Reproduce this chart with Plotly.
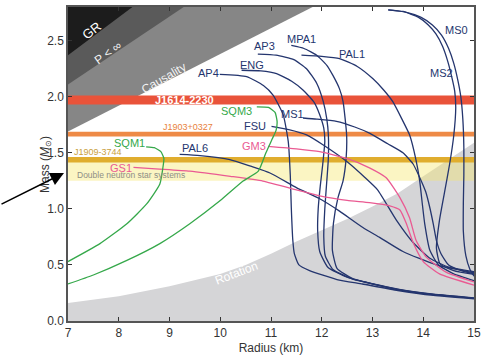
import plotly.graph_objects as go

# ---------------- data ----------------
x_range = [7, 15]
y_range = [0, 2.8]

# excluded regions: boundary lines (R km, M Msun)
gr_R, gr_M = [7.0, 8.27], [2.37, 2.80]
pinf_R, pinf_M = [7.0, 9.28], [2.11, 2.80]
caus_R, caus_M = [7.0, 11.82], [1.69, 2.80]
rot_R = [7.0, 8.0, 9.0, 10.0, 10.5, 11.0, 11.5, 12.0, 12.5, 13.0, 13.5, 14.0, 14.5, 15.0]
rot_M = [0.16, 0.22, 0.31, 0.42, 0.50, 0.60, 0.71, 0.81, 0.91, 1.02, 1.14, 1.29, 1.44, 1.59]

# pulsar mass bands (lo, hi)
band_names = ["Double neutron star systems", "J1909-3744", "J1903+0327", "J1614-2230"]
band_lo = [1.25, 1.414, 1.646, 1.93]
band_hi = [1.42, 1.462, 1.688, 2.01]

# mass-radius curves
AP4_R = [9.99, 10.52, 10.85, 11.04, 11.24, 11.34, 11.38, 11.40, 11.43, 11.46, 11.55, 11.76, 12.3, 12.8, 13.5, 14.2, 15.0]
AP4_M = [2.20, 2.18, 2.10, 2.015, 1.84, 1.60, 1.30, 1.01, 0.72, 0.60, 0.50, 0.45, 0.37, 0.33, 0.272, 0.228, 0.197]
ENG_R = [10.42, 10.8, 11.11, 11.4, 11.63, 11.85, 11.96, 12.04, 12.06, 12.02, 11.97, 11.93, 11.92, 11.96, 12.12, 12.5, 13.5, 14.2, 15.0]
ENG_M = [2.236, 2.23, 2.206, 2.14, 2.06, 1.95, 1.84, 1.72, 1.60, 1.40, 1.20, 1.00, 0.80, 0.62, 0.48, 0.39, 0.28, 0.235, 0.202]
AP3_R = [10.74, 11.1, 11.45, 11.70, 11.9, 12.03, 12.1, 12.13, 12.13, 12.1, 12.06, 12.04, 12.07, 12.22, 12.6, 13.5, 14.2, 15.0]
AP3_M = [2.38, 2.37, 2.33, 2.25, 2.12, 1.956, 1.80, 1.66, 1.45, 1.25, 1.00, 0.75, 0.58, 0.46, 0.375, 0.282, 0.237, 0.204]
MPA1_R = [11.40, 11.65, 11.9, 12.1, 12.22, 12.35, 12.42, 12.49, 12.48, 12.42, 12.32, 12.23, 12.21, 12.3, 12.6, 13.5, 14.2, 15.0]
MPA1_M = [2.457, 2.43, 2.37, 2.28, 2.19, 2.07, 1.956, 1.66, 1.45, 1.25, 1.10, 0.87, 0.63, 0.47, 0.38, 0.285, 0.24, 0.207]
PAL1_R = [11.6, 12.0, 12.35, 12.7, 13.01, 13.22, 13.4, 13.58, 13.73, 13.85, 13.93, 13.98, 14.03, 14.13, 14.3, 14.6, 15.0]
PAL1_M = [2.37, 2.36, 2.34, 2.27, 2.16, 2.06, 1.956, 1.80, 1.66, 1.45, 1.25, 1.05, 0.864, 0.63, 0.50, 0.42, 0.36]
MS0_R = [13.31, 13.65, 13.95, 14.18, 14.36, 14.5, 14.6, 14.68, 14.74, 14.78, 14.8, 14.8, 14.79, 14.79, 14.84, 14.92, 15.0]
MS0_M = [2.775, 2.755, 2.71, 2.64, 2.55, 2.43, 2.30, 2.15, 2.00, 1.80, 1.55, 1.30, 1.05, 0.80, 0.58, 0.46, 0.40]
MS2_R = [13.31, 13.6, 13.9, 14.1, 14.25, 14.38, 14.48, 14.56, 14.62, 14.64, 14.6, 14.52, 14.42, 14.32, 14.26, 14.33, 14.6, 15.0]
MS2_M = [2.775, 2.76, 2.71, 2.64, 2.56, 2.45, 2.32, 2.18, 2.05, 1.90, 1.65, 1.40, 1.15, 0.90, 0.65, 0.51, 0.45, 0.415]
MS1_R = [11.63, 11.9, 12.29, 12.65, 12.94, 13.3, 13.6, 13.8, 13.93, 14.05, 14.13, 14.2, 14.26, 14.35, 14.5, 14.75, 15.0]
MS1_M = [1.81, 1.80, 1.78, 1.73, 1.675, 1.58, 1.50, 1.40, 1.28, 1.15, 1.01, 0.86, 0.717, 0.60, 0.50, 0.45, 0.42]
FSU_R = [11.01, 11.37, 11.7, 12.03, 12.5, 12.85, 13.1, 13.47, 13.8, 14.13, 14.5, 15.0]
FSU_M = [1.735, 1.705, 1.66, 1.57, 1.42, 1.28, 1.17, 0.90, 0.70, 0.56, 0.48, 0.44]
PAL6_R = [9.2, 9.6, 10.19, 10.6, 10.98, 11.5, 11.96, 12.35, 12.81, 13.14, 13.6, 14.26, 15.0]
PAL6_M = [1.485, 1.475, 1.44, 1.38, 1.32, 1.19, 1.09, 0.98, 0.834, 0.746, 0.62, 0.50, 0.43]
GM3_R = [10.94, 11.5, 11.96, 12.49, 12.94, 13.27, 13.54, 13.73, 13.86, 14.06, 14.45, 15.0]
GM3_M = [1.557, 1.535, 1.51, 1.45, 1.366, 1.277, 1.10, 0.92, 0.717, 0.57, 0.436, 0.348]
GS1_R = [8.29, 8.8, 9.4, 10.2, 10.84, 11.5, 11.96, 12.5, 12.94, 13.34, 13.54, 13.67, 13.8, 14.0, 14.32, 15.0]
GS1_M = [1.37, 1.355, 1.336, 1.29, 1.248, 1.17, 1.115, 1.075, 1.056, 1.027, 0.99, 0.865, 0.70, 0.53, 0.42, 0.32]
SQM1_R = [8.54, 8.7, 8.83, 8.89, 8.88, 8.81, 8.55, 8.16, 7.63, 7.0]
SQM1_M = [1.553, 1.545, 1.51, 1.45, 1.40, 1.222, 1.044, 0.867, 0.69, 0.53]
SQM3_R = [10.72, 10.95, 11.08, 11.12, 11.1, 11.02, 10.9, 10.75, 10.45, 10.0, 9.4, 8.81, 8.16, 7.5, 7.0]
SQM3_M = [1.91, 1.905, 1.86, 1.78, 1.70, 1.62, 1.50, 1.336, 1.248, 1.074, 0.867, 0.69, 0.54, 0.41, 0.33]

curve_names = ["AP4", "ENG", "AP3", "MPA1", "PAL1", "MS0", "MS2", "MS1", "FSU", "PAL6", "GM3", "GS1", "SQM1", "SQM3"]
curve_R = [AP4_R, ENG_R, AP3_R, MPA1_R, PAL1_R, MS0_R, MS2_R, MS1_R, FSU_R, PAL6_R, GM3_R, GS1_R, SQM1_R, SQM3_R]
curve_M = [AP4_M, ENG_M, AP3_M, MPA1_M, PAL1_M, MS0_M, MS2_M, MS1_M, FSU_M, PAL6_M, GM3_M, GS1_M, SQM1_M, SQM3_M]
curve_kind = ["n", "n", "n", "n", "n", "n", "n", "n", "n", "n", "p", "p", "g", "g"]

# label positions (R, M)
label_R = [9.76, 10.63, 10.88, 11.6, 12.6, 14.65, 14.36, 11.43, 10.68, 9.5, 10.66, 8.04, 8.22, 10.32]
label_M = [2.212, 2.287, 2.449, 2.511, 2.378, 2.597, 2.209, 1.846, 1.739, 1.547, 1.562, 1.364, 1.591, 1.872]

# ---------------- styling ----------------
NAVY = "#24356e"
GREEN = "#35a84a"
PINK = "#ea5a92"
kind_color = {"n": NAVY, "g": GREEN, "p": PINK}
band_colors = ["rgba(246,230,112,0.42)", "#e0ad2e", "#ee8a46", "#e9533a"]
FONT = "Liberation Sans"

fig = go.Figure()

# rotation region
fig.add_trace(go.Scatter(x=rot_R + [x_range[1], x_range[0]], y=rot_M + [y_range[0], y_range[0]],
                         fill="toself", fillcolor="#d5d5d7", line=dict(width=0),
                         mode="lines", hoverinfo="skip", showlegend=False))
# causality, P<inf, GR (upper-left)
for R, M, col in [(caus_R, caus_M, "#868686"), (pinf_R, pinf_M, "#5a5a5a"), (gr_R, gr_M, "#1c1c1c")]:
    fig.add_trace(go.Scatter(x=R + [x_range[0]], y=M + [y_range[1]], fill="toself",
                             fillcolor=col, line=dict(width=0), mode="lines",
                             hoverinfo="skip", showlegend=False))
# mass bands
for lo, hi, col in zip(band_lo, band_hi, band_colors):
    fig.add_trace(go.Scatter(x=[x_range[0], x_range[1], x_range[1], x_range[0]], y=[lo, lo, hi, hi],
                             fill="toself", fillcolor=col, line=dict(width=0), mode="lines",
                             hoverinfo="skip", showlegend=False))
# curves
for name, R, M, k in zip(curve_names, curve_R, curve_M, curve_kind):
    fig.add_trace(go.Scatter(x=R, y=M, mode="lines", name=name,
                             line=dict(color=kind_color[k], width=1.3, shape="spline", smoothing=0.5),
                             showlegend=False))

ann = []
for name, R, M, k in zip(curve_names, label_R, label_M, curve_kind):
    ann.append(dict(x=R, y=M, xref="x", yref="y", text=name, showarrow=False,
                    font=dict(family=FONT, size=11, color=kind_color[k])))

# region labels
region_ann = [
    dict(x=7.47, y=2.59, text="GR", textangle=-38, font=dict(family=FONT, size=13, color="white")),
    dict(x=7.78, y=2.39, text="P &lt; ∞", textangle=-36, font=dict(family=FONT, size=12, color="#f2f2f2")),
    dict(x=8.89, y=2.168, text="Causality", textangle=-30, font=dict(family=FONT, size=12, color="#f4f4f4")),
    dict(x=10.32, y=0.43, text="Rotation", textangle=-21, font=dict(family=FONT, size=12, color="white")),
    dict(x=9.3, y=1.967, text="<b>J1614-2230</b>", font=dict(family=FONT, size=11, color="white")),
    dict(x=9.36, y=1.73, text="J1903+0327", font=dict(family=FONT, size=9, color="#e8823c")),
    dict(x=7.59, y=1.511, text="J1909-3744", font=dict(family=FONT, size=9, color="#c9a040")),
    dict(x=8.25, y=1.302, text="Double neutron star systems", font=dict(family=FONT, size=8.5, color="#8e8e86")),
]
for a in region_ann:
    a.update(xref="x", yref="y", showarrow=False)
ann += region_ann

# y title and external arrow
ann.append(dict(x=-0.079, y=0.5, xref="paper", yref="paper", text="Mass (<i>M</i><sub>⊙</sub>)",
                textangle=-90, showarrow=False, font=dict(family=FONT, size=12, color="#333")))
ann.append(dict(x=-0.0099, y=0.4715, xref="paper", yref="paper", text="", showarrow=True,
                ax=-64, ay=32, arrowhead=2, arrowsize=1.8, arrowwidth=1.5, arrowcolor="black"))

axis_common = dict(showline=True, linecolor="#555", linewidth=1.5, mirror="ticks",
                   ticks="inside", ticklen=4, tickwidth=1.3, tickcolor="#333",
                   showgrid=False, zeroline=False,
                   tickfont=dict(family=FONT, size=12, color="#333"))

fig.update_layout(
    width=493, height=360,
    margin=dict(l=68, r=19, t=5, b=39),
    paper_bgcolor="white", plot_bgcolor="white",
    xaxis=dict(range=x_range, dtick=1, title=dict(text="Radius (km)", standoff=4,
               font=dict(family=FONT, size=12, color="#333")), **axis_common),
    yaxis=dict(range=y_range, dtick=0.5, tickformat=".1f", **axis_common),
    annotations=ann,
)

fig.write_html("out.html", config={"displayModeBar": False},
               post_script="document.body.style.margin='0';")
